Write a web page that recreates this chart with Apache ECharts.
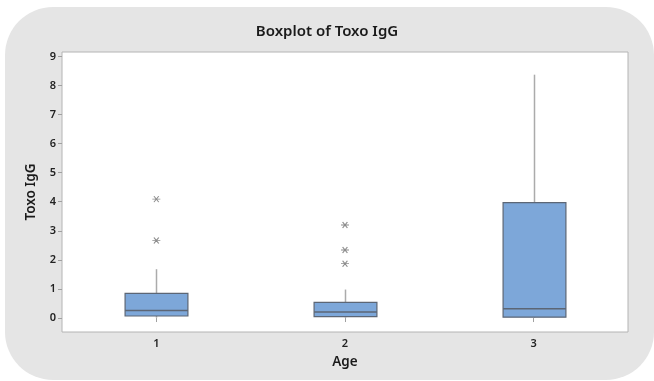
<!DOCTYPE html>
<html>
<head>
<meta charset="utf-8">
<script src="https://cdn.jsdelivr.net/npm/echarts@6/dist/echarts.min.js"></script>
<style>
  html, body { margin: 0; padding: 0; background: #ffffff; }
  #chart { width: 654px; height: 381px; }
</style>
</head>
<body>
<div id="chart"></div>
<script>
// Age groups on the x axis
const ageGroups = ['1', '2', '3'];
// Five-number summaries of Toxo IgG per age group: [min, Q1, median, Q3, upper whisker]
const boxStats = [
  [0.01, 0.07, 0.26, 0.85, 1.68],
  [0.01, 0.05, 0.21, 0.54, 0.98],
  [0.01, 0.03, 0.32, 3.97, 8.37]
];
// Outlying observations beyond the whiskers
const outliers1 = [4.09, 2.67];
const outliers2 = [3.20, 2.34, 1.87];
const outliers3 = [];
// Values labelled on the y axis
const yTickValues = [0, 1, 2, 3, 4, 5, 6, 7, 8, 9];

const outlierPoints = [];
[outliers1, outliers2, outliers3].forEach(function (list, gi) {
  list.forEach(function (v) { outlierPoints.push([gi, v]); });
});
const boxData = boxStats.map(function (s, i) { return [i].concat(s); });

const FONT = '"Noto Sans", "Open Sans", sans-serif';
const chart = echarts.init(document.getElementById('chart'), null, { renderer: 'canvas' });

function renderBox(params, api) {
  const x = api.value(0);
  const lo = api.coord([x, api.value(1)]);
  const q1 = api.coord([x, api.value(2)]);
  const md = api.coord([x, api.value(3)]);
  const q3 = api.coord([x, api.value(4)]);
  const hi = api.coord([x, api.value(5)]);
  const half = api.size([1, 0])[0] * 0.333 / 2;
  const cx = Math.round(lo[0]) + 0.5;
  const whisker = { stroke: '#ababab', lineWidth: 1.5 };
  return {
    type: 'group',
    children: [
      { type: 'line', shape: { x1: cx, y1: q3[1], x2: cx, y2: hi[1] }, style: whisker },
      { type: 'line', shape: { x1: cx, y1: q1[1], x2: cx, y2: lo[1] }, style: whisker },
      {
        type: 'rect',
        shape: { x: cx - half, y: q3[1], width: half * 2, height: q1[1] - q3[1] },
        style: { fill: '#7da7d9', stroke: '#5c6675', lineWidth: 1.2 }
      },
      {
        type: 'line',
        shape: { x1: cx - half, y1: md[1], x2: cx + half, y2: md[1] },
        style: { stroke: '#5c6675', lineWidth: 1.5 }
      }
    ]
  };
}

chart.setOption({
  animation: false,
  backgroundColor: '#ffffff',
  graphic: [
    {
      type: 'rect',
      z: -10,
      shape: { x: 5, y: 7, width: 649, height: 373, r: 48 },
      style: { fill: '#e5e5e5' }
    },
    {
      type: 'text',
      left: 'center',
      top: 24,
      style: {
        text: 'Boxplot of Toxo IgG',
        font: '600 15px ' + FONT,
        fill: '#1a1a1a'
      }
    }
  ],
  grid: {
    left: 62, right: 26, top: 52, bottom: 49,
    show: true,
    backgroundColor: '#ffffff',
    borderColor: '#b4b4b4',
    borderWidth: 1
  },
  xAxis: {
    type: 'category',
    data: ageGroups,
    boundaryGap: true,
    name: 'Age',
    nameLocation: 'middle',
    nameGap: 23,
    nameTextStyle: { fontFamily: FONT, fontSize: 13.5, fontWeight: 600, color: '#1a1a1a' },
    axisLine: { show: false },
    axisTick: { show: true, alignWithLabel: true, length: 4, lineStyle: { color: '#a0a0a0' } },
    axisLabel: { margin: 6, fontFamily: FONT, fontSize: 11, fontWeight: 600, color: '#222' },
    splitLine: { show: false }
  },
  yAxis: {
    type: 'value',
    min: -0.48,
    max: 9.15,
    name: 'Toxo IgG',
    nameLocation: 'middle',
    nameGap: 24,
    nameTextStyle: { fontFamily: FONT, fontSize: 13.5, fontWeight: 600, color: '#1a1a1a' },
    axisLine: { show: false },
    axisTick: { show: true, length: 4, customValues: yTickValues, lineStyle: { color: '#a0a0a0' } },
    axisLabel: { margin: 6, customValues: yTickValues, fontFamily: FONT, fontSize: 11, fontWeight: 600, color: '#222' },
    splitLine: { show: false }
  },
  series: [
    {
      type: 'custom',
      name: 'Toxo IgG',
      renderItem: renderBox,
      encode: { x: 0, y: [1, 2, 3, 4, 5] },
      data: boxData,
      z: 2
    },
    {
      type: 'scatter',
      name: 'Outliers',
      data: outlierPoints,
      symbol: 'path://M0,4L10,4M2,0.5L8,7.5M2,7.5L8,0.5',
      symbolSize: [8, 6],
      itemStyle: { color: 'rgba(0,0,0,0)', borderColor: '#707070', borderWidth: 1 },
      z: 3
    }
  ]
});
</script>
</body>
</html>
